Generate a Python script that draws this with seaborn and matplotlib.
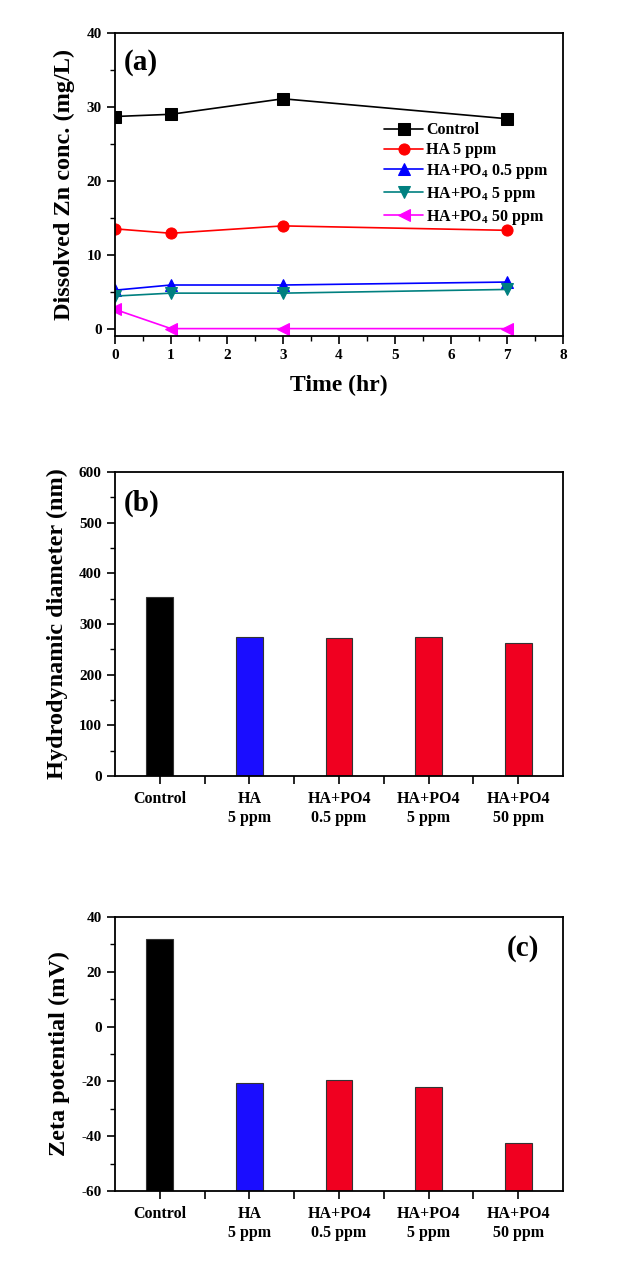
import numpy as np
import pandas as pd
import matplotlib
matplotlib.use("Agg")
import matplotlib.pyplot as plt
from matplotlib.ticker import MultipleLocator, FixedLocator
import seaborn as sns

# ---------------- data ----------------
time_hr = [0, 1, 3, 7]
control = [28.7, 29.0, 31.1, 28.4]
ha_5 = [13.5, 12.9, 13.9, 13.3]
ha_po4_05 = [5.2, 5.9, 5.9, 6.3]
ha_po4_5 = [4.4, 4.8, 4.8, 5.3]
ha_po4_50 = [2.6, 0.0, 0.0, 0.0]
series_labels = ["Control", "HA 5 ppm", r"HA+PO$_\mathbf{4}$ 0.5 ppm",
                 r"HA+PO$_\mathbf{4}$ 5 ppm", r"HA+PO$_\mathbf{4}$ 50 ppm"]

categories = ["Control", "HA\n5 ppm", "HA+PO4\n0.5 ppm", "HA+PO4\n5 ppm", "HA+PO4\n50 ppm"]
hydro_diam = [354, 274, 272, 274, 263]
zeta = [32.1, -20.7, -19.5, -22.2, -42.3]

# ---------------- style ----------------
sns.set_style("ticks")
plt.rcParams["font.family"] = ["Liberation Serif", "DejaVu Serif"]
plt.rcParams["font.weight"] = "bold"
plt.rcParams["axes.labelweight"] = "bold"
plt.rcParams["text.color"] = "black"
plt.rcParams["axes.labelcolor"] = "black"
plt.rcParams["xtick.color"] = "black"
plt.rcParams["ytick.color"] = "black"
plt.rcParams["axes.unicode_minus"] = False
plt.rcParams["mathtext.fontset"] = "custom"
plt.rcParams["mathtext.rm"] = "Liberation Serif:bold"
plt.rcParams["mathtext.bf"] = "Liberation Serif:bold"
plt.rcParams["mathtext.it"] = "Liberation Serif:bold:italic"

fig = plt.figure(figsize=(6.2, 12.87), dpi=100)
W, H = 620, 1287

def add_ax(left, right, top, bottom):
    return fig.add_axes([left / W, (H - bottom) / H, (right - left) / W, (bottom - top) / H])

ax_a = add_ax(115, 563, 33, 336)
ax_b = add_ax(115, 563, 472, 776)
ax_c = add_ax(115, 563, 917, 1191)

def style_axes(ax):
    for s in ax.spines.values():
        s.set_linewidth(1.3)
        s.set_color("black")
    ax.tick_params(which="major", direction="out", length=6, width=1.2,
                   labelsize=11, top=False, right=False, colors="black")
    ax.tick_params(which="minor", direction="out", length=3.5, width=1.0,
                   top=False, right=False, colors="black")
    for lab in ax.get_xticklabels() + ax.get_yticklabels():
        lab.set_fontweight("bold")

# ---------------- panel (a) ----------------
colors_a = ["#000000", "#FF0000", "#0000FF", "#008080", "#FF00FF"]
markers_a = ["s", "o", "^", "v", "<"]
all_series = [control, ha_5, ha_po4_05, ha_po4_5, ha_po4_50]
for vals, lab, col, mk in zip(all_series, series_labels, colors_a, markers_a):
    df = pd.DataFrame({"Time": time_hr, "Conc": vals})
    sns.lineplot(data=df, x="Time", y="Conc", ax=ax_a, color=col, marker=mk,
                 markersize=8, markeredgecolor=col, linewidth=1.2, label=lab)

ax_a.set_xlim(0, 8)
ax_a.set_ylim(-1, 40)
ax_a.xaxis.set_major_locator(MultipleLocator(1))
ax_a.xaxis.set_minor_locator(MultipleLocator(0.5))
ax_a.yaxis.set_major_locator(MultipleLocator(10))
ax_a.yaxis.set_minor_locator(MultipleLocator(5))
ax_a.set_xlabel("Time (hr)", fontsize=17, fontweight="bold", labelpad=9)
ax_a.set_ylabel("Dissolved Zn conc. (mg/L)", fontsize=17.5, fontweight="bold", labelpad=8)
ax_a.text(0.02, 0.904, "(a)", transform=ax_a.transAxes, fontsize=21,
          fontweight="bold", va="center", ha="left")
leg = ax_a.legend(loc="upper left", bbox_to_anchor=(0.58, 0.737), frameon=False,
                  fontsize=11.5, handlelength=2.4, handletextpad=0.2,
                  labelspacing=0.24, borderpad=0.1)
for t in leg.get_texts():
    t.set_fontweight("bold")
style_axes(ax_a)

# ---------------- panel (b) ----------------
bar_colors = ["#000000", "#1A0DFF", "#F00020", "#F00020", "#F00020"]
df_b = pd.DataFrame({"cat": categories, "val": hydro_diam})
sns.barplot(data=df_b, x="cat", y="val", hue="cat", palette=bar_colors, legend=False,
            saturation=1, width=0.3, edgecolor="#333333", linewidth=0.8, ax=ax_b)
ax_b.set_xlim(-0.5, 4.5)
ax_b.set_ylim(0, 600)
ax_b.yaxis.set_major_locator(MultipleLocator(100))
ax_b.yaxis.set_minor_locator(MultipleLocator(50))
ax_b.xaxis.set_minor_locator(FixedLocator([0.5, 1.5, 2.5, 3.5]))
ax_b.set_xlabel("")
ax_b.set_ylabel("Hydrodynamic diameter (nm)", fontsize=17.5, fontweight="bold", labelpad=8)
ax_b.text(0.02, 0.898, "(b)", transform=ax_b.transAxes, fontsize=21,
          fontweight="bold", va="center", ha="left")
style_axes(ax_b)
ax_b.tick_params(axis="x", which="minor", length=6, width=1.2)
ax_b.tick_params(axis="x", labelsize=11.5, pad=5)

# ---------------- panel (c) ----------------
df_c = pd.DataFrame({"cat": categories, "val": zeta})
sns.barplot(data=df_c, x="cat", y="val", hue="cat", palette=bar_colors, legend=False,
            saturation=1, width=0.3, edgecolor="#333333", linewidth=0.8, ax=ax_c)
ymin_c = -60
for p in ax_c.patches:
    top = p.get_y() + p.get_height()
    p.set_y(ymin_c)
    p.set_height(top - ymin_c)
ax_c.set_xlim(-0.5, 4.5)
ax_c.set_ylim(ymin_c, 40)
ax_c.yaxis.set_major_locator(MultipleLocator(20))
ax_c.yaxis.set_minor_locator(MultipleLocator(10))
ax_c.xaxis.set_minor_locator(FixedLocator([0.5, 1.5, 2.5, 3.5]))
ax_c.set_xlabel("")
ax_c.set_ylabel("Zeta potential (mV)", fontsize=17.5, fontweight="bold", labelpad=8)
ax_c.text(0.875, 0.885, "(c)", transform=ax_c.transAxes, fontsize=21,
          fontweight="bold", va="center", ha="left")
style_axes(ax_c)
ax_c.tick_params(axis="x", which="minor", length=6, width=1.2)
ax_c.tick_params(axis="x", labelsize=11.5, pad=5)

fig.savefig("out.png", dpi=100, facecolor="white")
